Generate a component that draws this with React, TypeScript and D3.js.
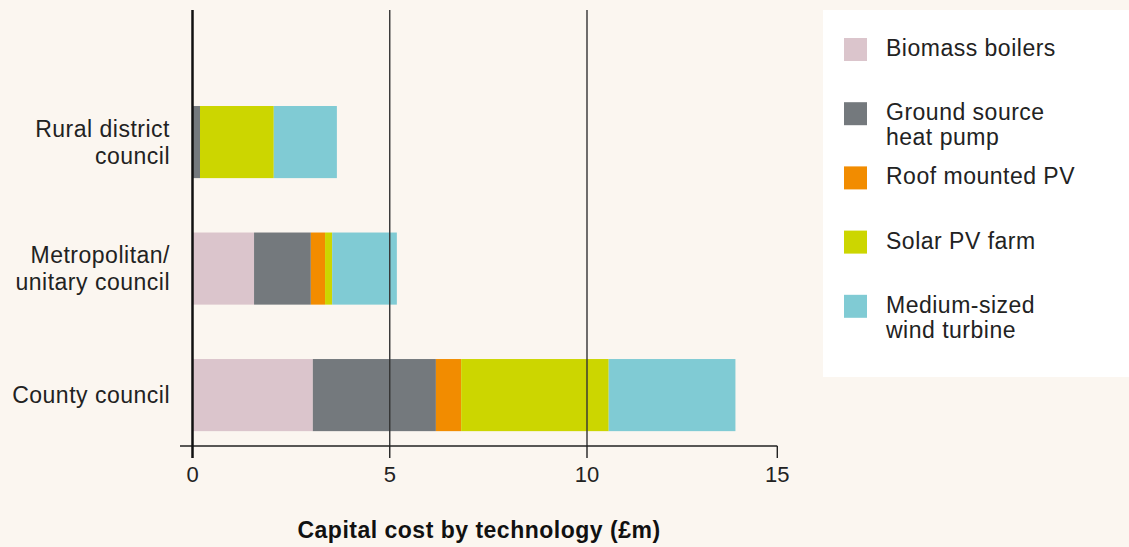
import React from "react";
import * as d3 from "d3";

const categories = ["Rural district council", "Metropolitan/ unitary council", "County council"];
const categoryLines = [["Rural district", "council"], ["Metropolitan/", "unitary council"], ["County council"]];
const technologies = ["Biomass boilers", "Ground source heat pump", "Roof mounted PV", "Solar PV farm", "Medium-sized wind turbine"];
const technologyLines = [["Biomass boilers"], ["Ground source", "heat pump"], ["Roof mounted PV"], ["Solar PV farm"], ["Medium-sized", "wind turbine"]];
const biomass = [0, 1.56, 3.05];
const groundSource = [0.19, 1.44, 3.12];
const roofPV = [0, 0.36, 0.64];
const solarFarm = [1.87, 0.18, 3.76];
const windTurbine = [1.6, 1.64, 3.33];
const xTicks = [0, 5, 10, 15];
const colors = ["#dbc5cc", "#74797d", "#f28c00", "#ccd600", "#80cbd4"];
const axisTitle = "Capital cost by technology (£m)";

const W = 1129;
const H = 547;
const FONT = "'Liberation Sans', Arial, Helvetica, sans-serif";

export default function App() {
  const series = [biomass, groundSource, roofPV, solarFarm, windTurbine];
  const rows = categories.map((c, i) => {
    const r: Record<string, any> = { category: c };
    technologies.forEach((t, k) => (r[t] = series[k][i]));
    return r;
  });
  const stacked = d3.stack<any>().keys(technologies)(rows);

  const x = d3.scaleLinear().domain([0, 10, 15]).range([192.5, 587, 777.3]);
  const y = d3
    .scaleBand<string>()
    .domain(categories)
    .range([42.75, 494.4])
    .paddingInner(0.43)
    .paddingOuter(0.5);

  const top = 10;
  const axisY = 446;
  const textColor = "#222";

  return (
    <svg
      width={W}
      height={H}
      style={{ position: "fixed", left: 0, top: 0, display: "block" }}
      fontFamily={FONT}
    >
      <rect x={0} y={0} width={W} height={H} fill="#fbf6f0" />

      {/* bars */}
      {stacked.map((s, k) => (
        <g key={s.key} fill={colors[k]}>
          {s.map((d, i) => {
            const w = x(d[1]) - x(d[0]);
            if (w <= 0) return null;
            return (
              <rect
                key={i}
                x={x(d[0])}
                y={y(categories[i])!}
                width={w}
                height={y.bandwidth()}
              />
            );
          })}
        </g>
      ))}

      {/* gridlines */}
      {xTicks.filter((t) => t > 0 && t < 15).map((t) => (
        <line key={t} x1={x(t)} x2={x(t)} y1={top} y2={axisY} stroke="#333" strokeWidth={1.4} />
      ))}

      {/* axis */}
      <line x1={180} x2={x(15)} y1={axisY} y2={axisY} stroke="#222" strokeWidth={1.6} />
      {xTicks.map((t) => (
        <g key={t}>
          <line x1={x(t)} x2={x(t)} y1={t === 0 ? top : axisY} y2={458} stroke={t === 0 ? "#111" : "#222"} strokeWidth={t === 0 ? 2.5 : 1.4} />
          <text x={x(t)} y={482} textAnchor="middle" fontSize={22} fill={textColor}>
            {t}
          </text>
        </g>
      ))}

      {/* category labels */}
      {categories.map((c, i) => {
        const lines = categoryLines[i];
        const cy = y(c)! + y.bandwidth() / 2;
        const lh = 27;
        const firstBase = cy - ((lines.length - 1) * lh) / 2 + 8;
        return (
          <text key={c} textAnchor="end" fontSize={23} fill={textColor} letterSpacing={0.5}>
            {lines.map((l, j) => (
              <tspan key={j} x={170} y={firstBase + j * lh}>
                {l}
              </tspan>
            ))}
          </text>
        );
      })}

      {/* axis title */}
      <text x={479} y={538} textAnchor="middle" fontSize={23} fontWeight="bold" fill="#111" letterSpacing={0.5}>
        {axisTitle}
      </text>

      {/* legend */}
      <rect x={823} y={10} width={W - 823} height={367} fill="#ffffff" />
      {technologies.map((t, k) => {
        const sy = 38 + k * 64.2;
        return (
          <g key={t}>
            <rect x={844} y={sy} width={23} height={23} fill={colors[k]} />
            <text fontSize={23} fill={textColor} letterSpacing={0.5}>
              {technologyLines[k].map((l, j) => (
                <tspan key={j} x={886} y={sy + 18 + j * 25}>
                  {l}
                </tspan>
              ))}
            </text>
          </g>
        );
      })}
    </svg>
  );
}
